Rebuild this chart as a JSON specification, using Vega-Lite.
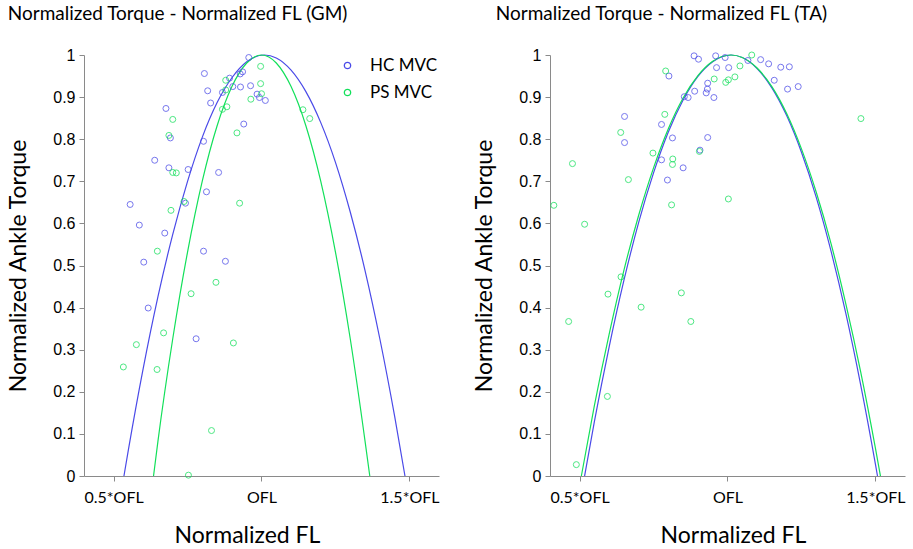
{
  "$schema": "https://vega.github.io/schema/vega-lite/v6.json",
  "description": "Normalized torque vs normalized fibre length, GM and TA.",
  "padding": {"left": 7, "top": 5, "right": 2, "bottom": 0},
  "datasets": {
    "points": [
      {"muscle": "GM", "group": "HC MVC", "fl": 0.957, "torque": 0.994},
      {"muscle": "GM", "group": "HC MVC", "fl": 0.807, "torque": 0.956},
      {"muscle": "GM", "group": "HC MVC", "fl": 0.936, "torque": 0.960},
      {"muscle": "GM", "group": "HC MVC", "fl": 0.928, "torque": 0.955},
      {"muscle": "GM", "group": "HC MVC", "fl": 0.892, "torque": 0.945},
      {"muscle": "GM", "group": "HC MVC", "fl": 0.903, "torque": 0.925},
      {"muscle": "GM", "group": "HC MVC", "fl": 0.929, "torque": 0.924},
      {"muscle": "GM", "group": "HC MVC", "fl": 0.963, "torque": 0.927},
      {"muscle": "GM", "group": "HC MVC", "fl": 0.818, "torque": 0.915},
      {"muscle": "GM", "group": "HC MVC", "fl": 0.868, "torque": 0.911},
      {"muscle": "GM", "group": "HC MVC", "fl": 0.985, "torque": 0.907},
      {"muscle": "GM", "group": "HC MVC", "fl": 0.993, "torque": 0.899},
      {"muscle": "GM", "group": "HC MVC", "fl": 1.013, "torque": 0.892},
      {"muscle": "GM", "group": "HC MVC", "fl": 0.828, "torque": 0.886},
      {"muscle": "GM", "group": "HC MVC", "fl": 0.677, "torque": 0.873},
      {"muscle": "GM", "group": "HC MVC", "fl": 0.692, "torque": 0.803},
      {"muscle": "GM", "group": "HC MVC", "fl": 0.940, "torque": 0.836},
      {"muscle": "GM", "group": "HC MVC", "fl": 0.804, "torque": 0.795},
      {"muscle": "GM", "group": "HC MVC", "fl": 0.639, "torque": 0.750},
      {"muscle": "GM", "group": "HC MVC", "fl": 0.687, "torque": 0.732},
      {"muscle": "GM", "group": "HC MVC", "fl": 0.752, "torque": 0.728},
      {"muscle": "GM", "group": "HC MVC", "fl": 0.855, "torque": 0.721},
      {"muscle": "GM", "group": "HC MVC", "fl": 0.814, "torque": 0.675},
      {"muscle": "GM", "group": "HC MVC", "fl": 0.743, "torque": 0.648},
      {"muscle": "GM", "group": "HC MVC", "fl": 0.556, "torque": 0.645},
      {"muscle": "GM", "group": "HC MVC", "fl": 0.587, "torque": 0.596},
      {"muscle": "GM", "group": "HC MVC", "fl": 0.673, "torque": 0.577},
      {"muscle": "GM", "group": "HC MVC", "fl": 0.804, "torque": 0.534},
      {"muscle": "GM", "group": "HC MVC", "fl": 0.602, "torque": 0.508},
      {"muscle": "GM", "group": "HC MVC", "fl": 0.878, "torque": 0.510},
      {"muscle": "GM", "group": "HC MVC", "fl": 0.617, "torque": 0.399},
      {"muscle": "GM", "group": "HC MVC", "fl": 0.779, "torque": 0.326},
      {"muscle": "GM", "group": "PS MVC", "fl": 0.997, "torque": 0.973},
      {"muscle": "GM", "group": "PS MVC", "fl": 0.879, "torque": 0.940},
      {"muscle": "GM", "group": "PS MVC", "fl": 0.997, "torque": 0.932},
      {"muscle": "GM", "group": "PS MVC", "fl": 0.879, "torque": 0.917},
      {"muscle": "GM", "group": "PS MVC", "fl": 1.000, "torque": 0.908},
      {"muscle": "GM", "group": "PS MVC", "fl": 0.964, "torque": 0.895},
      {"muscle": "GM", "group": "PS MVC", "fl": 0.700, "torque": 0.847},
      {"muscle": "GM", "group": "PS MVC", "fl": 0.868, "torque": 0.871},
      {"muscle": "GM", "group": "PS MVC", "fl": 0.883, "torque": 0.877},
      {"muscle": "GM", "group": "PS MVC", "fl": 0.687, "torque": 0.809},
      {"muscle": "GM", "group": "PS MVC", "fl": 0.917, "torque": 0.815},
      {"muscle": "GM", "group": "PS MVC", "fl": 0.700, "torque": 0.721},
      {"muscle": "GM", "group": "PS MVC", "fl": 0.712, "torque": 0.720},
      {"muscle": "GM", "group": "PS MVC", "fl": 0.738, "torque": 0.652},
      {"muscle": "GM", "group": "PS MVC", "fl": 0.926, "torque": 0.648},
      {"muscle": "GM", "group": "PS MVC", "fl": 0.694, "torque": 0.631},
      {"muscle": "GM", "group": "PS MVC", "fl": 1.140, "torque": 0.870},
      {"muscle": "GM", "group": "PS MVC", "fl": 1.163, "torque": 0.849},
      {"muscle": "GM", "group": "PS MVC", "fl": 0.648, "torque": 0.534},
      {"muscle": "GM", "group": "PS MVC", "fl": 0.846, "torque": 0.460},
      {"muscle": "GM", "group": "PS MVC", "fl": 0.762, "torque": 0.433},
      {"muscle": "GM", "group": "PS MVC", "fl": 0.669, "torque": 0.340},
      {"muscle": "GM", "group": "PS MVC", "fl": 0.577, "torque": 0.312},
      {"muscle": "GM", "group": "PS MVC", "fl": 0.905, "torque": 0.316},
      {"muscle": "GM", "group": "PS MVC", "fl": 0.533, "torque": 0.259},
      {"muscle": "GM", "group": "PS MVC", "fl": 0.647, "torque": 0.253},
      {"muscle": "GM", "group": "PS MVC", "fl": 0.831, "torque": 0.108},
      {"muscle": "GM", "group": "PS MVC", "fl": 0.753, "torque": 0.002},
      {"muscle": "TA", "group": "HC MVC", "fl": 0.887, "torque": 0.998},
      {"muscle": "TA", "group": "HC MVC", "fl": 0.902, "torque": 0.990},
      {"muscle": "TA", "group": "HC MVC", "fl": 0.960, "torque": 0.998},
      {"muscle": "TA", "group": "HC MVC", "fl": 0.992, "torque": 0.994},
      {"muscle": "TA", "group": "HC MVC", "fl": 0.963, "torque": 0.970},
      {"muscle": "TA", "group": "HC MVC", "fl": 0.802, "torque": 0.950},
      {"muscle": "TA", "group": "HC MVC", "fl": 0.933, "torque": 0.933},
      {"muscle": "TA", "group": "HC MVC", "fl": 0.889, "torque": 0.914},
      {"muscle": "TA", "group": "HC MVC", "fl": 0.928, "torque": 0.910},
      {"muscle": "TA", "group": "HC MVC", "fl": 0.932, "torque": 0.919},
      {"muscle": "TA", "group": "HC MVC", "fl": 0.854, "torque": 0.901},
      {"muscle": "TA", "group": "HC MVC", "fl": 0.867, "torque": 0.899},
      {"muscle": "TA", "group": "HC MVC", "fl": 0.954, "torque": 0.899},
      {"muscle": "TA", "group": "HC MVC", "fl": 0.652, "torque": 0.854},
      {"muscle": "TA", "group": "HC MVC", "fl": 0.777, "torque": 0.835},
      {"muscle": "TA", "group": "HC MVC", "fl": 0.652, "torque": 0.792},
      {"muscle": "TA", "group": "HC MVC", "fl": 0.814, "torque": 0.803},
      {"muscle": "TA", "group": "HC MVC", "fl": 0.933, "torque": 0.804},
      {"muscle": "TA", "group": "HC MVC", "fl": 0.907, "torque": 0.774},
      {"muscle": "TA", "group": "HC MVC", "fl": 0.777, "torque": 0.751},
      {"muscle": "TA", "group": "HC MVC", "fl": 0.850, "torque": 0.732},
      {"muscle": "TA", "group": "HC MVC", "fl": 0.797, "torque": 0.703},
      {"muscle": "TA", "group": "HC MVC", "fl": 1.004, "torque": 0.970},
      {"muscle": "TA", "group": "HC MVC", "fl": 1.069, "torque": 0.987},
      {"muscle": "TA", "group": "HC MVC", "fl": 1.112, "torque": 0.989},
      {"muscle": "TA", "group": "HC MVC", "fl": 1.139, "torque": 0.979},
      {"muscle": "TA", "group": "HC MVC", "fl": 1.180, "torque": 0.971},
      {"muscle": "TA", "group": "HC MVC", "fl": 1.209, "torque": 0.972},
      {"muscle": "TA", "group": "HC MVC", "fl": 1.158, "torque": 0.940},
      {"muscle": "TA", "group": "HC MVC", "fl": 1.203, "torque": 0.919},
      {"muscle": "TA", "group": "HC MVC", "fl": 1.239, "torque": 0.925},
      {"muscle": "TA", "group": "PS MVC", "fl": 0.791, "torque": 0.962},
      {"muscle": "TA", "group": "PS MVC", "fl": 0.955, "torque": 0.943},
      {"muscle": "TA", "group": "PS MVC", "fl": 0.994, "torque": 0.935},
      {"muscle": "TA", "group": "PS MVC", "fl": 0.788, "torque": 0.859},
      {"muscle": "TA", "group": "PS MVC", "fl": 0.639, "torque": 0.816},
      {"muscle": "TA", "group": "PS MVC", "fl": 0.905, "torque": 0.771},
      {"muscle": "TA", "group": "PS MVC", "fl": 0.748, "torque": 0.767},
      {"muscle": "TA", "group": "PS MVC", "fl": 0.476, "torque": 0.742},
      {"muscle": "TA", "group": "PS MVC", "fl": 0.815, "torque": 0.753},
      {"muscle": "TA", "group": "PS MVC", "fl": 0.814, "torque": 0.740},
      {"muscle": "TA", "group": "PS MVC", "fl": 0.665, "torque": 0.704},
      {"muscle": "TA", "group": "PS MVC", "fl": 0.413, "torque": 0.643},
      {"muscle": "TA", "group": "PS MVC", "fl": 0.811, "torque": 0.644},
      {"muscle": "TA", "group": "PS MVC", "fl": 0.517, "torque": 0.598},
      {"muscle": "TA", "group": "PS MVC", "fl": 1.003, "torque": 0.658},
      {"muscle": "TA", "group": "PS MVC", "fl": 1.082, "torque": 1.000},
      {"muscle": "TA", "group": "PS MVC", "fl": 1.042, "torque": 0.974},
      {"muscle": "TA", "group": "PS MVC", "fl": 1.025, "torque": 0.948},
      {"muscle": "TA", "group": "PS MVC", "fl": 1.003, "torque": 0.941},
      {"muscle": "TA", "group": "PS MVC", "fl": 1.451, "torque": 0.849},
      {"muscle": "TA", "group": "PS MVC", "fl": 0.640, "torque": 0.473},
      {"muscle": "TA", "group": "PS MVC", "fl": 0.596, "torque": 0.432},
      {"muscle": "TA", "group": "PS MVC", "fl": 0.844, "torque": 0.435},
      {"muscle": "TA", "group": "PS MVC", "fl": 0.708, "torque": 0.401},
      {"muscle": "TA", "group": "PS MVC", "fl": 0.463, "torque": 0.367},
      {"muscle": "TA", "group": "PS MVC", "fl": 0.876, "torque": 0.367},
      {"muscle": "TA", "group": "PS MVC", "fl": 0.594, "torque": 0.189},
      {"muscle": "TA", "group": "PS MVC", "fl": 0.489, "torque": 0.027}
    ],
    "fits": [
      {"muscle": "GM", "group": "HC MVC", "fl": 0.535, "torque": 0.000},
      {"muscle": "GM", "group": "HC MVC", "fl": 0.55, "torque": 0.062},
      {"muscle": "GM", "group": "HC MVC", "fl": 0.60, "torque": 0.255},
      {"muscle": "GM", "group": "HC MVC", "fl": 0.65, "torque": 0.426},
      {"muscle": "GM", "group": "HC MVC", "fl": 0.70, "torque": 0.574},
      {"muscle": "GM", "group": "HC MVC", "fl": 0.75, "torque": 0.700},
      {"muscle": "GM", "group": "HC MVC", "fl": 0.80, "torque": 0.805},
      {"muscle": "GM", "group": "HC MVC", "fl": 0.85, "torque": 0.887},
      {"muscle": "GM", "group": "HC MVC", "fl": 0.90, "torque": 0.946},
      {"muscle": "GM", "group": "HC MVC", "fl": 0.95, "torque": 0.984},
      {"muscle": "GM", "group": "HC MVC", "fl": 1.01, "torque": 1.000},
      {"muscle": "GM", "group": "HC MVC", "fl": 1.05, "torque": 0.993},
      {"muscle": "GM", "group": "HC MVC", "fl": 1.10, "torque": 0.964},
      {"muscle": "GM", "group": "HC MVC", "fl": 1.15, "torque": 0.913},
      {"muscle": "GM", "group": "HC MVC", "fl": 1.20, "torque": 0.840},
      {"muscle": "GM", "group": "HC MVC", "fl": 1.25, "torque": 0.745},
      {"muscle": "GM", "group": "HC MVC", "fl": 1.30, "torque": 0.627},
      {"muscle": "GM", "group": "HC MVC", "fl": 1.35, "torque": 0.488},
      {"muscle": "GM", "group": "HC MVC", "fl": 1.40, "torque": 0.326},
      {"muscle": "GM", "group": "HC MVC", "fl": 1.45, "torque": 0.142},
      {"muscle": "GM", "group": "HC MVC", "fl": 1.485, "torque": 0.000},
      {"muscle": "GM", "group": "PS MVC", "fl": 0.635, "torque": 0.000},
      {"muscle": "GM", "group": "PS MVC", "fl": 0.65, "torque": 0.083},
      {"muscle": "GM", "group": "PS MVC", "fl": 0.70, "torque": 0.326},
      {"muscle": "GM", "group": "PS MVC", "fl": 0.75, "torque": 0.532},
      {"muscle": "GM", "group": "PS MVC", "fl": 0.80, "torque": 0.701},
      {"muscle": "GM", "group": "PS MVC", "fl": 0.85, "torque": 0.832},
      {"muscle": "GM", "group": "PS MVC", "fl": 0.90, "torque": 0.925},
      {"muscle": "GM", "group": "PS MVC", "fl": 0.95, "torque": 0.981},
      {"muscle": "GM", "group": "PS MVC", "fl": 1.00, "torque": 1.000},
      {"muscle": "GM", "group": "PS MVC", "fl": 1.05, "torque": 0.981},
      {"muscle": "GM", "group": "PS MVC", "fl": 1.10, "torque": 0.925},
      {"muscle": "GM", "group": "PS MVC", "fl": 1.15, "torque": 0.832},
      {"muscle": "GM", "group": "PS MVC", "fl": 1.20, "torque": 0.701},
      {"muscle": "GM", "group": "PS MVC", "fl": 1.25, "torque": 0.532},
      {"muscle": "GM", "group": "PS MVC", "fl": 1.30, "torque": 0.326},
      {"muscle": "GM", "group": "PS MVC", "fl": 1.35, "torque": 0.083},
      {"muscle": "GM", "group": "PS MVC", "fl": 1.366, "torque": 0.000},
      {"muscle": "TA", "group": "HC MVC", "fl": 0.517, "torque": 0.000},
      {"muscle": "TA", "group": "HC MVC", "fl": 0.55, "torque": 0.129},
      {"muscle": "TA", "group": "HC MVC", "fl": 0.60, "torque": 0.307},
      {"muscle": "TA", "group": "HC MVC", "fl": 0.65, "torque": 0.465},
      {"muscle": "TA", "group": "HC MVC", "fl": 0.70, "torque": 0.603},
      {"muscle": "TA", "group": "HC MVC", "fl": 0.75, "torque": 0.720},
      {"muscle": "TA", "group": "HC MVC", "fl": 0.80, "torque": 0.817},
      {"muscle": "TA", "group": "HC MVC", "fl": 0.85, "torque": 0.893},
      {"muscle": "TA", "group": "HC MVC", "fl": 0.90, "torque": 0.949},
      {"muscle": "TA", "group": "HC MVC", "fl": 0.95, "torque": 0.984},
      {"muscle": "TA", "group": "HC MVC", "fl": 1.012, "torque": 1.000},
      {"muscle": "TA", "group": "HC MVC", "fl": 1.05, "torque": 0.994},
      {"muscle": "TA", "group": "HC MVC", "fl": 1.10, "torque": 0.968},
      {"muscle": "TA", "group": "HC MVC", "fl": 1.15, "torque": 0.922},
      {"muscle": "TA", "group": "HC MVC", "fl": 1.20, "torque": 0.856},
      {"muscle": "TA", "group": "HC MVC", "fl": 1.25, "torque": 0.769},
      {"muscle": "TA", "group": "HC MVC", "fl": 1.30, "torque": 0.662},
      {"muscle": "TA", "group": "HC MVC", "fl": 1.35, "torque": 0.534},
      {"muscle": "TA", "group": "HC MVC", "fl": 1.40, "torque": 0.386},
      {"muscle": "TA", "group": "HC MVC", "fl": 1.45, "torque": 0.217},
      {"muscle": "TA", "group": "HC MVC", "fl": 1.50, "torque": 0.028},
      {"muscle": "TA", "group": "HC MVC", "fl": 1.507, "torque": 0.000},
      {"muscle": "TA", "group": "PS MVC", "fl": 0.506, "torque": 0.000},
      {"muscle": "TA", "group": "PS MVC", "fl": 0.55, "torque": 0.167},
      {"muscle": "TA", "group": "PS MVC", "fl": 0.60, "torque": 0.337},
      {"muscle": "TA", "group": "PS MVC", "fl": 0.65, "torque": 0.489},
      {"muscle": "TA", "group": "PS MVC", "fl": 0.70, "torque": 0.620},
      {"muscle": "TA", "group": "PS MVC", "fl": 0.75, "torque": 0.732},
      {"muscle": "TA", "group": "PS MVC", "fl": 0.80, "torque": 0.825},
      {"muscle": "TA", "group": "PS MVC", "fl": 0.85, "torque": 0.898},
      {"muscle": "TA", "group": "PS MVC", "fl": 0.90, "torque": 0.951},
      {"muscle": "TA", "group": "PS MVC", "fl": 0.95, "torque": 0.985},
      {"muscle": "TA", "group": "PS MVC", "fl": 1.0115, "torque": 1.000},
      {"muscle": "TA", "group": "PS MVC", "fl": 1.05, "torque": 0.994},
      {"muscle": "TA", "group": "PS MVC", "fl": 1.10, "torque": 0.969},
      {"muscle": "TA", "group": "PS MVC", "fl": 1.15, "torque": 0.925},
      {"muscle": "TA", "group": "PS MVC", "fl": 1.20, "torque": 0.861},
      {"muscle": "TA", "group": "PS MVC", "fl": 1.25, "torque": 0.777},
      {"muscle": "TA", "group": "PS MVC", "fl": 1.30, "torque": 0.674},
      {"muscle": "TA", "group": "PS MVC", "fl": 1.35, "torque": 0.552},
      {"muscle": "TA", "group": "PS MVC", "fl": 1.40, "torque": 0.409},
      {"muscle": "TA", "group": "PS MVC", "fl": 1.45, "torque": 0.248},
      {"muscle": "TA", "group": "PS MVC", "fl": 1.50, "torque": 0.066},
      {"muscle": "TA", "group": "PS MVC", "fl": 1.517, "torque": 0.000}
    ]
  },
  "spacing": 33,
  "hconcat": [
    {
      "title": {"text": "Normalized Torque - Normalized FL (GM)", "anchor": "start", "frame": "bounds"},
      "width": 355,
      "height": 421,
      "layer": [
        {
          "data": {"name": "fits"},
          "transform": [{"filter": "datum.muscle == 'GM'"}],
          "mark": {"type": "line", "strokeWidth": 1.2, "interpolate": "monotone"},
          "encoding": {
            "x": {"field": "fl", "type": "quantitative", "title": "Normalized FL",
              "scale": {"domain": [0.4, 1.6], "nice": false, "zero": false},
              "axis": {"values": [0.5, 1, 1.5], "titleX": 163, "labelExpr": "datum.value == 0.5 ? '0.5*OFL' : datum.value == 1 ? 'OFL' : '1.5*OFL'"}},
            "y": {"field": "torque", "type": "quantitative", "title": "Normalized Ankle Torque",
              "scale": {"domain": [0, 1], "nice": false},
              "axis": {"values": [0, 0.1, 0.2, 0.3, 0.4, 0.5, 0.6, 0.7, 0.8, 0.9, 1], "format": "~g"}},
            "color": {"field": "group", "type": "nominal", "title": null,
              "scale": {"domain": ["HC MVC", "PS MVC"], "range": ["#4a4ae8", "#12e05a"]},
              "legend": {"orient": "none", "legendX": 255, "legendY": 2, "symbolType": "circle", "symbolOpacity": 1}}
          }
        },
        {
          "data": {"name": "points"},
          "transform": [{"filter": "datum.muscle == 'GM'"}],
          "mark": {"type": "point", "filled": false, "size": 36, "strokeWidth": 1, "opacity": 0.75},
          "encoding": {
            "x": {"field": "fl", "type": "quantitative", "title": "Normalized FL",
              "scale": {"domain": [0.4, 1.6], "nice": false, "zero": false},
              "axis": {"values": [0.5, 1, 1.5], "titleX": 163, "labelExpr": "datum.value == 0.5 ? '0.5*OFL' : datum.value == 1 ? 'OFL' : '1.5*OFL'"}},
            "y": {"field": "torque", "type": "quantitative", "title": "Normalized Ankle Torque",
              "scale": {"domain": [0, 1], "nice": false},
              "axis": {"values": [0, 0.1, 0.2, 0.3, 0.4, 0.5, 0.6, 0.7, 0.8, 0.9, 1], "format": "~g"}},
            "color": {"field": "group", "type": "nominal", "title": null,
              "scale": {"domain": ["HC MVC", "PS MVC"], "range": ["#4a4ae8", "#12e05a"]},
              "legend": {"orient": "none", "legendX": 255, "legendY": 2, "symbolType": "circle", "symbolOpacity": 1}}
          }
        }
      ]
    },
    {
      "title": {"text": "Normalized Torque - Normalized FL (TA)", "anchor": "start", "frame": "bounds", "dx": 22},
      "width": 355,
      "height": 421,
      "layer": [
        {
          "data": {"name": "fits"},
          "transform": [{"filter": "datum.muscle == 'TA'"}],
          "mark": {"type": "line", "strokeWidth": 1.2, "interpolate": "monotone"},
          "encoding": {
            "x": {"field": "fl", "type": "quantitative", "title": "Normalized FL",
              "scale": {"domain": [0.4, 1.6], "nice": false, "zero": false},
              "axis": {"values": [0.5, 1, 1.5], "titleX": 183, "labelExpr": "datum.value == 0.5 ? '0.5*OFL' : datum.value == 1 ? 'OFL' : '1.5*OFL'"}},
            "y": {"field": "torque", "type": "quantitative", "title": "Normalized Ankle Torque",
              "scale": {"domain": [0, 1], "nice": false},
              "axis": {"values": [0, 0.1, 0.2, 0.3, 0.4, 0.5, 0.6, 0.7, 0.8, 0.9, 1], "format": "~g"}},
            "color": {"field": "group", "type": "nominal",
              "scale": {"domain": ["HC MVC", "PS MVC"], "range": ["#4a4ae8", "#12e05a"]},
              "legend": null}
          }
        },
        {
          "data": {"name": "points"},
          "transform": [{"filter": "datum.muscle == 'TA'"}],
          "mark": {"type": "point", "filled": false, "size": 36, "strokeWidth": 1, "opacity": 0.75},
          "encoding": {
            "x": {"field": "fl", "type": "quantitative", "title": "Normalized FL",
              "scale": {"domain": [0.4, 1.6], "nice": false, "zero": false},
              "axis": {"values": [0.5, 1, 1.5], "titleX": 183, "labelExpr": "datum.value == 0.5 ? '0.5*OFL' : datum.value == 1 ? 'OFL' : '1.5*OFL'"}},
            "y": {"field": "torque", "type": "quantitative", "title": "Normalized Ankle Torque",
              "scale": {"domain": [0, 1], "nice": false},
              "axis": {"values": [0, 0.1, 0.2, 0.3, 0.4, 0.5, 0.6, 0.7, 0.8, 0.9, 1], "format": "~g"}},
            "color": {"field": "group", "type": "nominal",
              "scale": {"domain": ["HC MVC", "PS MVC"], "range": ["#4a4ae8", "#12e05a"]},
              "legend": null}
          }
        }
      ]
    }
  ],
  "resolve": {"scale": {"color": "independent", "x": "independent", "y": "independent"}, "legend": {"color": "independent"}},
  "config": {
    "view": {"stroke": null},
    "font": "Lato",
    "title": {"fontSize": 19, "fontWeight": "normal", "color": "#000", "offset": 23},
    "axis": {
      "grid": false,
      "domainColor": "#8a8a8a",
      "tickColor": "#8a8a8a",
      "tickSize": 5,
      "labelColor": "#000",
      "titleColor": "#000",
      "titleFont": "Lato",
      "titleFontWeight": "normal",
      "titleFontSize": 23
    },
    "axisX": {
      "labelFont": "Lato",
      "labelFontSize": 16,
      "labelPadding": 8,
      "titlePadding": 19
    },
    "axisY": {
      "labelFont": "Liberation Sans",
      "labelFontSize": 16,
      "labelPadding": 4,
      "titlePadding": 22
    },
    "legend": {
      "labelFont": "Lato",
      "labelFontSize": 17,
      "labelColor": "#000",
      "symbolType": "circle",
      "symbolSize": 40,
      "symbolStrokeWidth": 1.3,
      "rowPadding": 9,
      "labelOffset": 14
    }
  }
}
